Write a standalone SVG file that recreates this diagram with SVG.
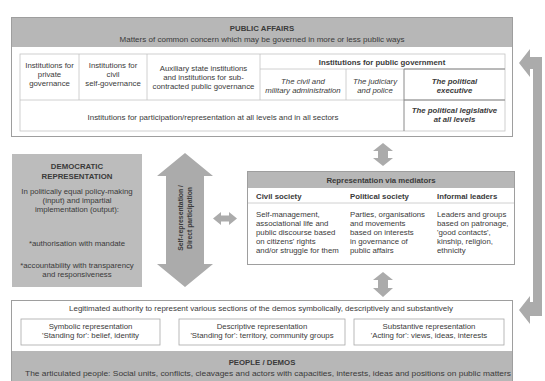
<svg xmlns="http://www.w3.org/2000/svg" width="545" height="381" viewBox="0 0 545 381">
<style>
text{font-family:"Liberation Sans",Arial,sans-serif;font-size:7.8px;fill:#3a3a3a;text-anchor:middle}
.b{font-weight:bold}
.i{font-style:italic}
.l{text-anchor:start}
.box{fill:#fff;stroke:#9e9e9e;stroke-width:1}
.cell{fill:none;stroke:#c4c4c4;stroke-width:0.8}
.dk{fill:none;stroke:#8a8a8a;stroke-width:1}
.hd{fill:#b7b7b7}
.arr{fill:#ababab}
</style>
<rect width="545" height="381" fill="#fff"/>

<g id="public-affairs">
<rect class="box" x="11.5" y="17.5" width="501" height="119"/>
<rect class="hd" x="12" y="18" width="500" height="29"/>
<text class="b" x="262" y="31">PUBLIC AFFAIRS</text>
<text x="262" y="42" textLength="285" lengthAdjust="spacingAndGlyphs">Matters of common concern which may be governed in more or less public ways</text>
<rect class="cell" x="20" y="54" width="485" height="77"/>
<line class="cell" x1="20" y1="100" x2="505" y2="100"/>
<line class="cell" x1="79" y1="54" x2="79" y2="100"/>
<line class="cell" x1="147" y1="54" x2="147" y2="100"/>
<line class="cell" x1="260" y1="54" x2="260" y2="100"/>
<line class="cell" x1="260" y1="69" x2="505" y2="69"/>
<line class="cell" x1="346" y1="69" x2="346" y2="100"/>
<path class="dk" d="M404,69 V131 M404,69 H505 M404,100 H505"/>
<text x="49.5" y="68">Institutions for</text>
<text x="49.5" y="77">private</text>
<text x="49.5" y="86">governance</text>
<text x="113" y="68">Institutions for</text>
<text x="113" y="77">civil</text>
<text x="113" y="86">self-governance</text>
<text x="203.5" y="71">Auxiliary state institutions</text>
<text x="203.5" y="80">and institutions for sub-</text>
<text x="203.5" y="89">contracted public governance</text>
<text class="b" x="382" y="64.5">Institutions for public government</text>
<text class="i" x="303" y="84">The civil and</text>
<text class="i" x="303" y="93">military administration</text>
<text class="i" x="375" y="84">The judiciary</text>
<text class="i" x="375" y="93">and police</text>
<text class="b i" x="454.5" y="84">The political</text>
<text class="b i" x="454.5" y="93">executive</text>
<text x="213" y="120" textLength="251" lengthAdjust="spacingAndGlyphs">Institutions for participation/representation at all levels and in all sectors</text>
<text class="b i" x="454.5" y="113">The political legislative</text>
<text class="b i" x="454.5" y="122">at all levels</text>
</g>

<g id="democratic-representation">
<rect x="12" y="154" width="130" height="133" fill="#bcbcbc"/>
<text class="b" x="77" y="169">DEMOCRATIC</text>
<text class="b" x="77" y="179">REPRESENTATION</text>
<text x="77" y="194">In politically equal policy-making</text>
<text x="77" y="203">(input) and impartial</text>
<text x="77" y="212">implementation (output):</text>
<text x="77" y="246">*authorisation with mandate</text>
<text x="77" y="268">*accountability with transparency</text>
<text x="77" y="277">and responsiveness</text>
</g>

<g id="mediators">
<rect class="box" x="247.5" y="171.5" width="267" height="93"/>
<rect class="hd" x="248" y="172" width="266" height="16"/>
<text class="b" x="381" y="183">Representation via mediators</text>
<line class="cell" x1="248" y1="203" x2="514" y2="203"/>
<text class="b l" x="256" y="199">Civil society</text>
<text class="b l" x="350" y="199">Political society</text>
<text class="b l" x="437" y="199">Informal leaders</text>
<text class="l" x="256" y="217">Self-management,</text>
<text class="l" x="256" y="226">associational life and</text>
<text class="l" x="256" y="235">public discourse based</text>
<text class="l" x="256" y="244">on citizens' rights</text>
<text class="l" x="256" y="253">and/or struggle for them</text>
<text class="l" x="350" y="217">Parties, organisations</text>
<text class="l" x="350" y="226">and movements</text>
<text class="l" x="350" y="235">based on interests</text>
<text class="l" x="350" y="244">in governance of</text>
<text class="l" x="350" y="253">public affairs</text>
<text class="l" x="437" y="217">Leaders and groups</text>
<text class="l" x="437" y="226">based on patronage,</text>
<text class="l" x="437" y="235">'good contacts',</text>
<text class="l" x="437" y="244">kinship, religion,</text>
<text class="l" x="437" y="253">ethnicity</text>
</g>

<g id="people-demos">
<rect class="box" x="11.5" y="300.5" width="501" height="82"/>
<text x="261" y="311" textLength="384" lengthAdjust="spacingAndGlyphs">Legitimated authority to represent various sections of the demos symbolically, descriptively and substantively</text>
<rect class="cell" x="21" y="319" width="139" height="26" style="stroke:#a8a8a8"/>
<rect class="cell" x="179" y="319" width="166" height="26" style="stroke:#a8a8a8"/>
<rect class="cell" x="354" y="319" width="150" height="26" style="stroke:#a8a8a8"/>
<text x="90.5" y="329">Symbolic representation</text>
<text x="90.5" y="338">'Standing for': belief, identity</text>
<text x="262" y="329">Descriptive representation</text>
<text x="262" y="338">'Standing for': territory, community groups</text>
<text x="429" y="329">Substantive representation</text>
<text x="429" y="338">'Acting for': views, ideas, interests</text>
<rect class="hd" x="12" y="351" width="500" height="30"/>
<text class="b" x="262" y="365">PEOPLE / DEMOS</text>
<text x="268" y="376" textLength="486" lengthAdjust="spacingAndGlyphs">The articulated people: Social units, conflicts, cleavages and actors with capacities, interests, ideas and positions on public matters</text>
</g>

<g id="connectors">
<path class="arr" d="M185,153 L213,176 L204,176 L204,264 L213,264 L185,287 L157,264 L166,264 L166,176 L157,176 Z"/>
<text x="0" y="0" transform="translate(183,218) rotate(-90)" class="b" style="font-size:6.8px">Self-representation /</text>
<text x="0" y="0" transform="translate(191.5,218) rotate(-90)" class="b" style="font-size:6.8px">Direct participation</text>
<path class="arr" d="M213,218.5 L221,212 L221,215.5 L229,215.5 L229,212 L237,218.5 L229,225 L229,221.5 L221,221.5 L221,225 Z"/>
<path class="arr" d="M383,143 L393,151 L388,151 L388,158 L393,158 L383,166 L373,158 L378,158 L378,151 L373,151 Z"/>
<path class="arr" d="M383,272 L393,280 L388,280 L388,288 L393,288 L383,297 L373,288 L378,288 L378,280 L373,280 Z"/>
<path class="arr" d="M519,63 L530,49 L530,57 L542,57 L542,316 L530,316 L530,324 L519,310 L530,296 L530,302 L533,302 L533,69 L530,69 L530,77 Z"/>
</g>
</svg>
